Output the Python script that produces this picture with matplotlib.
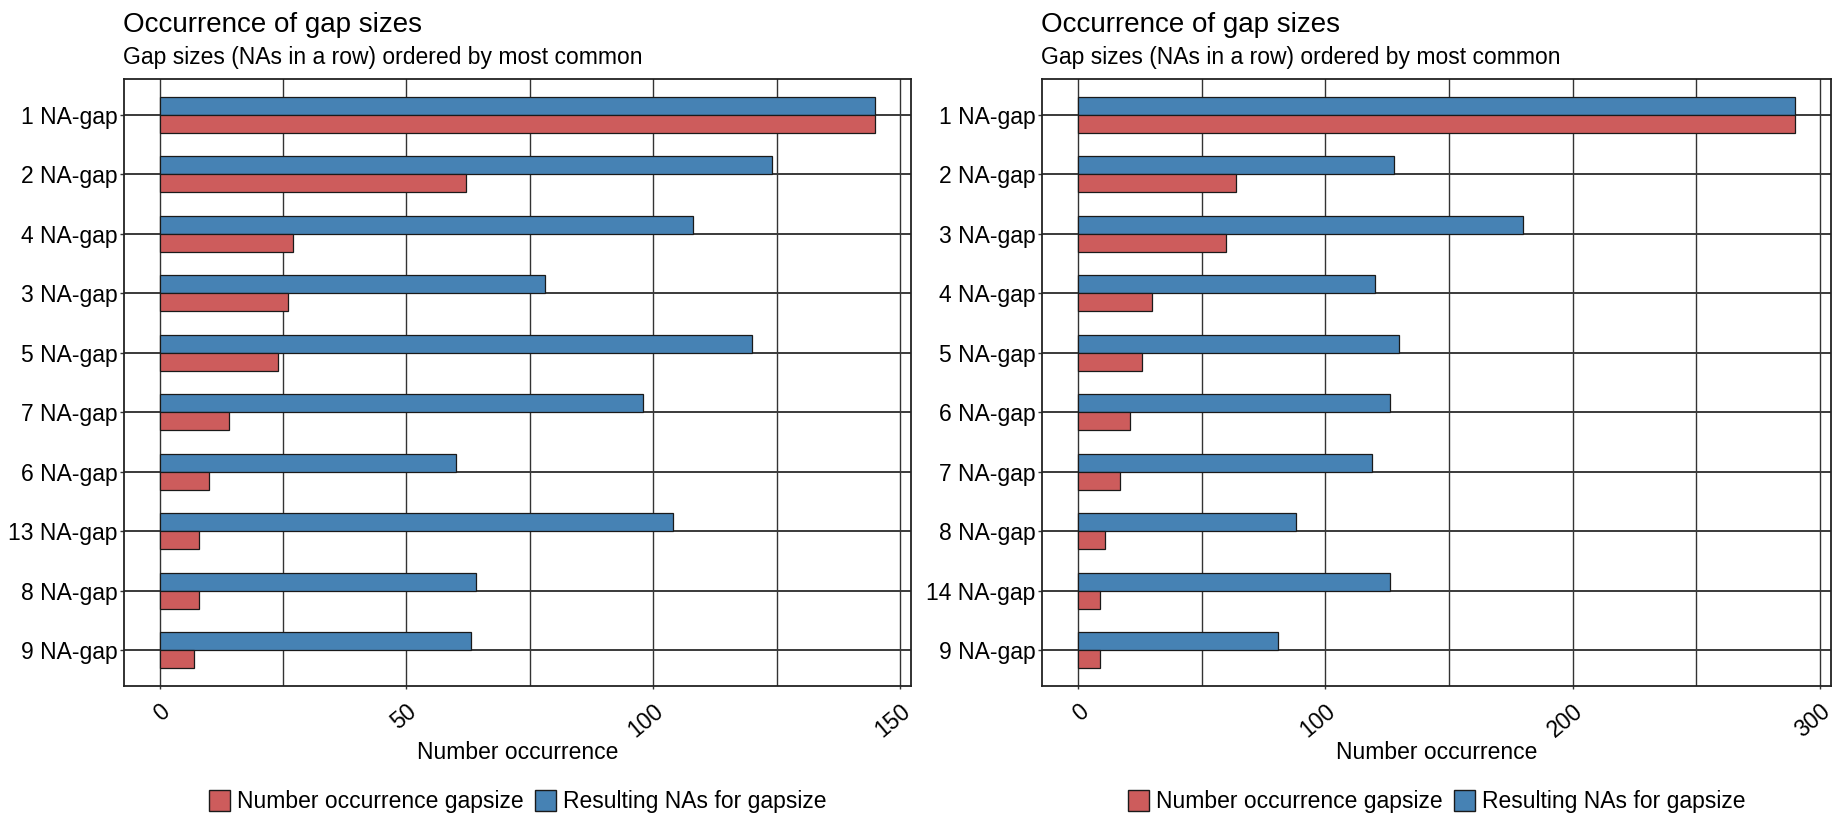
import matplotlib
matplotlib.use("Agg")
from matplotlib import pyplot as plt
from matplotlib.patches import Patch

plt.rcParams['font.family'] = ['Liberation Sans', 'DejaVu Sans']

# left chart
cats_left = ['1 NA-gap', '2 NA-gap', '4 NA-gap', '3 NA-gap', '5 NA-gap',
             '7 NA-gap', '6 NA-gap', '13 NA-gap', '8 NA-gap', '9 NA-gap']
occ_left = [145, 62, 27, 26, 24, 14, 10, 8, 8, 7]
nas_left = [145, 124, 108, 78, 120, 98, 60, 104, 64, 63]

# right chart
cats_right = ['1 NA-gap', '2 NA-gap', '3 NA-gap', '4 NA-gap', '5 NA-gap',
              '6 NA-gap', '7 NA-gap', '8 NA-gap', '14 NA-gap', '9 NA-gap']
occ_right = [290, 64, 60, 30, 26, 21, 17, 11, 9, 9]
nas_right = [290, 128, 180, 120, 130, 126, 119, 88, 126, 81]

RED = '#CD5C5C'
BLUE = '#4682B4'
EDGE = '#1a1a1a'
W, H = 1837, 822
FS = 16.5


def draw_panel(fig, rect, cats, occ, nas, major, minor):
    ax = fig.add_axes(rect)
    ys = list(range(len(cats)))
    ax.barh([y - 0.15 for y in ys], nas, height=0.3, color=BLUE,
            edgecolor=EDGE, linewidth=0.9, zorder=3)
    ax.barh([y + 0.15 for y in ys], occ, height=0.3, color=RED,
            edgecolor=EDGE, linewidth=0.9, zorder=3)

    top = max(max(occ), max(nas))
    ax.set_xlim(-0.05 * top, 1.05 * top)
    ax.set_ylim(len(cats) - 0.4, -0.6)

    ax.set_yticks(ys)
    ax.set_yticklabels(cats, fontsize=FS)
    ax.set_xticks(major)
    ax.set_xticks(minor, minor=True)
    ax.set_xticklabels([str(v) for v in major], fontsize=FS, rotation=40,
                       ha='right', rotation_mode='anchor')
    ax.tick_params(axis='y', which='major', length=3, width=1, color='#333333', pad=1.5)
    ax.tick_params(axis='x', which='major', length=2.5, width=1, color='#333333', pad=7.5)
    ax.tick_params(axis='x', which='minor', length=0)

    ax.grid(True, axis='x', which='both', color='#333333', linewidth=1.0, zorder=1)
    ax.grid(True, axis='y', which='major', color='#3a3a3a', linewidth=1.4, zorder=1)
    for s in ax.spines.values():
        s.set_color('#222222')
        s.set_linewidth(1.3)
    ax.set_axisbelow(True)

    ax.set_xlabel('Number occurrence', fontsize=FS, va='baseline')
    ax.xaxis.set_label_coords(0.5, (686 - 759) / 607)

    handles = [Patch(facecolor=RED, edgecolor=EDGE, label='Number occurrence gapsize'),
               Patch(facecolor=BLUE, edgecolor=EDGE, label='Resulting NAs for gapsize')]
    ax.legend(handles=handles, loc='center', bbox_to_anchor=(0.5, -0.191), ncol=2,
              frameon=False, fontsize=FS, handlelength=0.92, handleheight=1.0,
              handletextpad=0.3, columnspacing=0.5, borderpad=0, borderaxespad=0)

    x0 = rect[0] - 1 / W
    fig.text(x0, 1 - 32 / H, 'Occurrence of gap sizes', fontsize=20, va='baseline')
    fig.text(x0, 1 - 64 / H, 'Gap sizes (NAs in a row) ordered by most common',
             fontsize=FS, va='baseline')
    return ax


def main():
    fig = plt.figure(figsize=(W / 100, H / 100), dpi=100)
    bottom = 1 - 686 / H
    height = (686 - 79) / H
    draw_panel(fig, [124 / W, bottom, (911 - 124) / W, height],
               cats_left, occ_left, nas_left, [0, 50, 100, 150], [25, 75, 125])
    draw_panel(fig, [1042 / W, bottom, (1831 - 1042) / W, height],
               cats_right, occ_right, nas_right, [0, 100, 200, 300], [50, 150, 250])
    fig.savefig('out.png', dpi=100)
    plt.close(fig)


if __name__ == '__main__':
    main()
